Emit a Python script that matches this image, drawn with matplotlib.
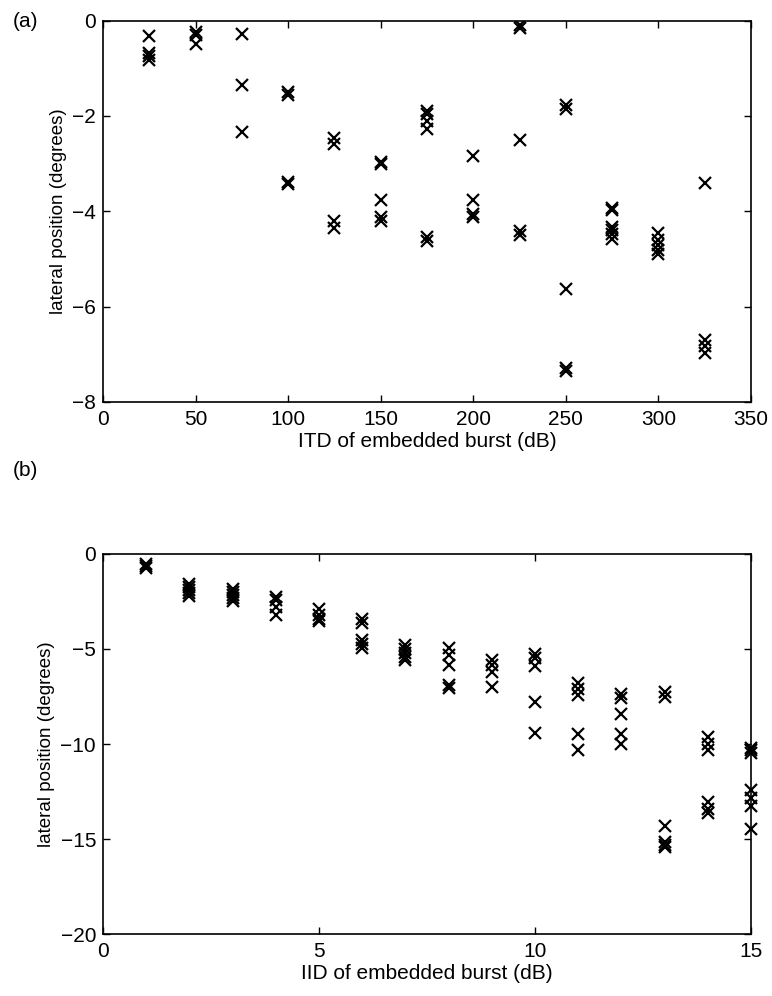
import matplotlib
matplotlib.use('Agg')
import matplotlib.pyplot as plt

# panel (a): lateral position vs ITD of embedded burst
itd_levels = [25, 50, 75, 100, 125, 150, 175, 200, 225, 250, 275, 300, 325]
itd_positions = [
    [-0.33, -0.68, -0.75, -0.82],
    [-0.25, -0.3, -0.5],
    [-0.29, -1.35, -2.33],
    [-1.5, -1.56, -3.38, -3.42],
    [-2.47, -2.6, -4.2, -4.35],
    [-2.97, -3.0, -3.76, -4.13, -4.2],
    [-1.9, -1.97, -2.1, -2.28, -4.55, -4.62],
    [-2.85, -3.76, -4.05, -4.13],
    [-0.1, -0.15, -2.5, -4.42, -4.5],
    [-1.78, -1.85, -5.64, -7.28, -7.35],
    [-3.93, -3.98, -4.33, -4.4, -4.47, -4.58],
    [-4.45, -4.6, -4.7, -4.82, -4.9],
    [-3.4, -6.7, -6.83, -6.97],
]

# panel (b): lateral position vs IID of embedded burst
iid_levels = [1, 2, 3, 4, 5, 6, 7, 8, 9, 10, 11, 12, 13, 14, 15]
iid_positions = [
    [-0.55, -0.65, -0.75],
    [-1.6, -1.75, -1.9, -2.05, -2.2],
    [-1.85, -2.0, -2.15, -2.3, -2.45],
    [-2.25, -2.4, -2.8, -3.2],
    [-2.9, -3.2, -3.4, -3.55],
    [-3.4, -3.65, -4.55, -4.75, -4.95],
    [-4.8, -5.0, -5.2, -5.4, -5.6],
    [-4.97, -5.3, -5.84, -6.9, -7.05],
    [-5.6, -5.85, -6.2, -7.0],
    [-5.25, -5.45, -5.9, -7.8, -9.4],
    [-6.8, -7.1, -7.4, -9.45, -10.3],
    [-7.35, -7.6, -8.4, -9.45, -10.0],
    [-7.25, -7.5, -14.3, -15.15, -15.3, -15.4],
    [-9.65, -10.0, -10.3, -13.05, -13.4, -13.65],
    [-10.2, -10.3, -10.45, -12.4, -12.85, -13.25, -14.45],
]

plt.rcParams['font.family'] = ['Liberation Sans', 'DejaVu Sans']
plt.rcParams['font.size'] = 15


def flatten(levels, positions):
    xs, ys = [], []
    for lev, vals in zip(levels, positions):
        for v in vals:
            xs.append(lev)
            ys.append(v)
    return xs, ys


def style_axes(ax):
    ax.tick_params(direction='in', top=True, right=True, length=5,
                   width=1, labelsize=15)
    ax.tick_params(axis='x', pad=6)
    ax.tick_params(axis='y', pad=5)
    for sp in ax.spines.values():
        sp.set_linewidth(1.2)


fig = plt.figure(figsize=(7.72, 9.96), dpi=100)
ax1 = fig.add_axes([0.1334, 0.5964, 0.8394, 0.383])
ax2 = fig.add_axes([0.1334, 0.0622, 0.8394, 0.3816])

x, y = flatten(itd_levels, itd_positions)
ax1.plot(x, y, linestyle='none', marker='x', color='black',
         markersize=9, markeredgewidth=1.6)
ax1.set_xlim(0, 350)
ax1.set_ylim(-8, 0)
ax1.set_xticks([0, 50, 100, 150, 200, 250, 300, 350])
ax1.set_yticks([-8, -6, -4, -2, 0])
ax1.set_xlabel('ITD of embedded burst (dB)', fontsize=15, labelpad=2)
ax1.set_ylabel('lateral position (degrees)', fontsize=13.5, labelpad=4)
style_axes(ax1)

x, y = flatten(iid_levels, iid_positions)
ax2.plot(x, y, linestyle='none', marker='x', color='black',
         markersize=9, markeredgewidth=1.6, clip_on=False)
ax2.set_xlim(0, 15)
ax2.set_ylim(-20, 0)
ax2.set_xticks([0, 5, 10, 15])
ax2.set_yticks([-20, -15, -10, -5, 0])
ax2.set_xlabel('IID of embedded burst (dB)', fontsize=15, labelpad=2)
ax2.set_ylabel('lateral position (degrees)', fontsize=13.5, labelpad=4)
style_axes(ax2)

fig.text(0.017, 0.978, '(a)', fontsize=15, va='center', ha='left')
fig.text(0.017, 0.528, '(b)', fontsize=15, va='center', ha='left')

fig.savefig('out.png', dpi=100)
